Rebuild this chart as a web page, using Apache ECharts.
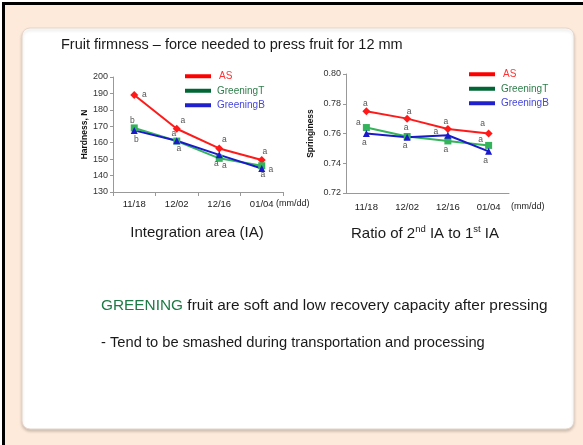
<!DOCTYPE html>
<html><head><meta charset="utf-8">
<script src="https://cdn.jsdelivr.net/npm/echarts@6/dist/echarts.min.js"></script>
<style>html,body{margin:0;padding:0;background:#fff}#c{width:583px;height:445px}</style>
</head><body><div id="c"></div>
<script>
const categories = ['11/18', '12/02', '12/16', '01/04'];
const seriesNames = ['AS', 'GreeningT', 'GreeningB'];
const hardnessAS = [189, 168.5, 156.5, 149.5];
const hardnessT = [169, 161, 150.5, 146];
const hardnessB = [167.5, 161.2, 152.6, 144.3];
const springAS = [0.775, 0.770, 0.763, 0.760];
const springT = [0.764, 0.758, 0.755, 0.752];
const springB = [0.760, 0.7575, 0.7588, 0.748];
const hardLettersAS = ['a', 'a', 'a', 'a'];
const hardLettersT = ['b', 'a', 'a', 'a'];
const hardLettersB = ['b', 'a', 'a', 'a'];
const springLettersAS = ['a', 'a', 'a', 'a'];
const springLettersT = ['a', 'a', 'a', 'a'];
const springLettersB = ['a', 'a', 'a', 'a'];
const hardnessAxis = { min: 130, max: 200, interval: 10 };
const springAxis = { min: 0.72, max: 0.80, interval: 0.02 };

// label offsets (style only)
const hardOff = {
  AS: [[10, 0], [6, -8], [5, -9], [3, -8]],
  T: [[-2, -7], [-3, -7], [-3, 5], [9, 4]],
  B: [[2, 9], [2, 8], [5, 11], [1, 6]]
};
const springOff = {
  AS: [[-1, -8], [2, -7], [-2, -7], [-6, -10]],
  T: [[-8, -5], [-1, -9], [-2, 9], [-8, -6]],
  B: [[-2, 9], [-2, 8], [-12, -4], [-3, 9]]
};

const FONT = 'Liberation Sans, Arial, sans-serif';
const colors = { AS: '#FF1A1A', T: '#33B35A', B: '#1A1ACC' };
const legendColors = { AS: '#FF0000', T: '#006633', B: '#2020CC' };
const legendText = { AS: '#FF3333', T: '#2E7D4A', B: '#4646DD' };

function mkData(vals, letters, offs) {
  return vals.map((v, i) => ({
    value: v,
    label: { show: true, formatter: letters[i], position: 'inside', offset: offs[i],
      fontSize: 8.5, color: '#555', fontFamily: FONT }
  }));
}
function mkSeries(name, key, vals, letters, offs, idx) {
  const sym = { AS: 'diamond', T: 'rect', B: 'triangle' }[key];
  return {
    type: 'line', name, xAxisIndex: idx, yAxisIndex: idx,
    data: mkData(vals, letters, offs),
    symbol: sym, symbolSize: key === 'AS' ? 8 : 7,
    showAllSymbol: true,
    lineStyle: { color: colors[key], width: 2 },
    itemStyle: { color: colors[key] },
    emphasis: { disabled: true },
    animation: false, z: 3
  };
}
function mkLegend(left, top) {
  return {
    orient: 'vertical', left, top, padding: 0, icon: 'rect', itemWidth: 26, itemHeight: 4, itemGap: 4,
    selectedMode: false,
    textStyle: { fontSize: 10, fontFamily: FONT, lineHeight: 10.5, padding: [0, 0, 0, 1] },
    data: [
      { name: 'AS', itemStyle: { color: legendColors.AS }, textStyle: { color: legendText.AS, padding: [0, 0, 0, 3] } },
      { name: 'GreeningT', itemStyle: { color: legendColors.T }, textStyle: { color: legendText.T } },
      { name: 'GreeningB', itemStyle: { color: legendColors.B }, textStyle: { color: legendText.B } }
    ]
  };
}
const axisLineStyle = { lineStyle: { color: '#999', width: 1 } };
function mkX(idx, ticks, margin) {
  return {
    type: 'category', gridIndex: idx, data: categories, boundaryGap: true,
    axisLine: axisLineStyle,
    axisTick: { show: ticks, length: 4, lineStyle: { color: '#999' } },
    axisLabel: { fontSize: 9.5, color: '#222', fontFamily: FONT, margin },
    splitLine: { show: false }
  };
}
function mkY(idx, cfg, name, gap, fmt) {
  return {
    type: 'value', gridIndex: idx, min: cfg.min, max: cfg.max, interval: cfg.interval,
    name, nameLocation: 'middle', nameGap: gap,
    nameTextStyle: { fontSize: 8.5, fontWeight: 'bold', color: '#111', fontFamily: FONT },
    axisLine: { show: true, lineStyle: { color: '#999' } },
    axisTick: { show: true, length: 3, lineStyle: { color: '#999' } },
    axisLabel: { fontSize: 9, color: '#333', fontFamily: FONT, margin: 5, formatter: fmt },
    splitLine: { show: false }
  };
}

const chart = echarts.init(document.getElementById('c'), null, { renderer: 'canvas' });
chart.setOption({
  animation: false,
  backgroundColor: '#fff',
  grid: [
    { left: 113, top: 77, width: 170, height: 115 },
    { left: 346, top: 74, width: 163, height: 119 }
  ],
  xAxis: [mkX(0, true, 7), mkX(1, false, 9)],
  yAxis: [
    mkY(0, hardnessAxis, 'Hardness, N', 23, v => String(v)),
    mkY(1, springAxis, 'Springiness', 31, v => v.toFixed(2))
  ],
  legend: [mkLegend(185, 71), mkLegend(469, 69)],
  series: [
    mkSeries(seriesNames[0], 'AS', hardnessAS, hardLettersAS, hardOff.AS, 0),
    mkSeries(seriesNames[1], 'T', hardnessT, hardLettersT, hardOff.T, 0),
    mkSeries(seriesNames[2], 'B', hardnessB, hardLettersB, hardOff.B, 0),
    mkSeries(seriesNames[0], 'AS', springAS, springLettersAS, springOff.AS, 1),
    mkSeries(seriesNames[1], 'T', springT, springLettersT, springOff.T, 1),
    mkSeries(seriesNames[2], 'B', springB, springLettersB, springOff.B, 1)
  ],
  graphic: [
    { type: 'rect', z: -10, silent: true, shape: { x: 2, y: 2, width: 581, height: 443 }, style: { fill: '#FDEADA' } },
    { type: 'rect', z: -9, silent: true, shape: { x: 2, y: 2, width: 581, height: 3 }, style: { fill: '#000' } },
    { type: 'rect', z: -9, silent: true, shape: { x: 2, y: 2, width: 3, height: 443 }, style: { fill: '#000' } },
    { type: 'rect', z: -8, silent: true, shape: { x: 22, y: 28, width: 552, height: 401, r: 8 },
      style: { fill: '#fff', stroke: '#E6D6CC', lineWidth: 1, shadowBlur: 3, shadowOffsetY: 2, shadowColor: 'rgba(0,0,0,0.18)' } },
    { type: 'text', silent: true, left: 61, top: 37,
      style: { text: 'Fruit firmness \u2013 force needed to press fruit for 12 mm', fill: '#1a1a1a', font: '14.5px ' + FONT } },
    { type: 'text', silent: true, left: 276, top: 199,
      style: { text: '(mm/dd)', fill: '#222', font: '9px ' + FONT } },
    { type: 'text', silent: true, left: 511, top: 202,
      style: { text: '(mm/dd)', fill: '#222', font: '9px ' + FONT } },
    { type: 'text', silent: true, x: 197, y: 233,
      style: { text: 'Integration area (IA)', fill: '#1a1a1a', font: '15px ' + FONT, align: 'center', verticalAlign: 'middle' } },
    { type: 'text', silent: true, x: 425, y: 233,
      style: { text: '{a|Ratio of 2}{s|nd}{a| IA to 1}{s|st}{a| IA}', align: 'center', verticalAlign: 'middle',
        rich: {
          a: { fontSize: 15, fontFamily: FONT, fill: '#1a1a1a', lineHeight: 17, verticalAlign: 'bottom' },
          s: { fontSize: 9.5, fontFamily: FONT, fill: '#1a1a1a', lineHeight: 17, verticalAlign: 'top', padding: [0, 0, 6, 0] }
        } } },
    { type: 'text', silent: true, left: 101, top: 298,
      style: { text: '{g|GREENING}{b| fruit are soft and low recovery capacity after pressing}',
        rich: {
          g: { fontSize: 15.4, fontFamily: FONT, fill: '#1E7A45' },
          b: { fontSize: 15.4, fontFamily: FONT, fill: '#1a1a1a' }
        } } },
    { type: 'text', silent: true, left: 101, top: 335,
      style: { text: '- Tend to be smashed during transportation and processing', fill: '#1a1a1a', font: '14.7px ' + FONT } }
  ]
});
</script></body></html>
